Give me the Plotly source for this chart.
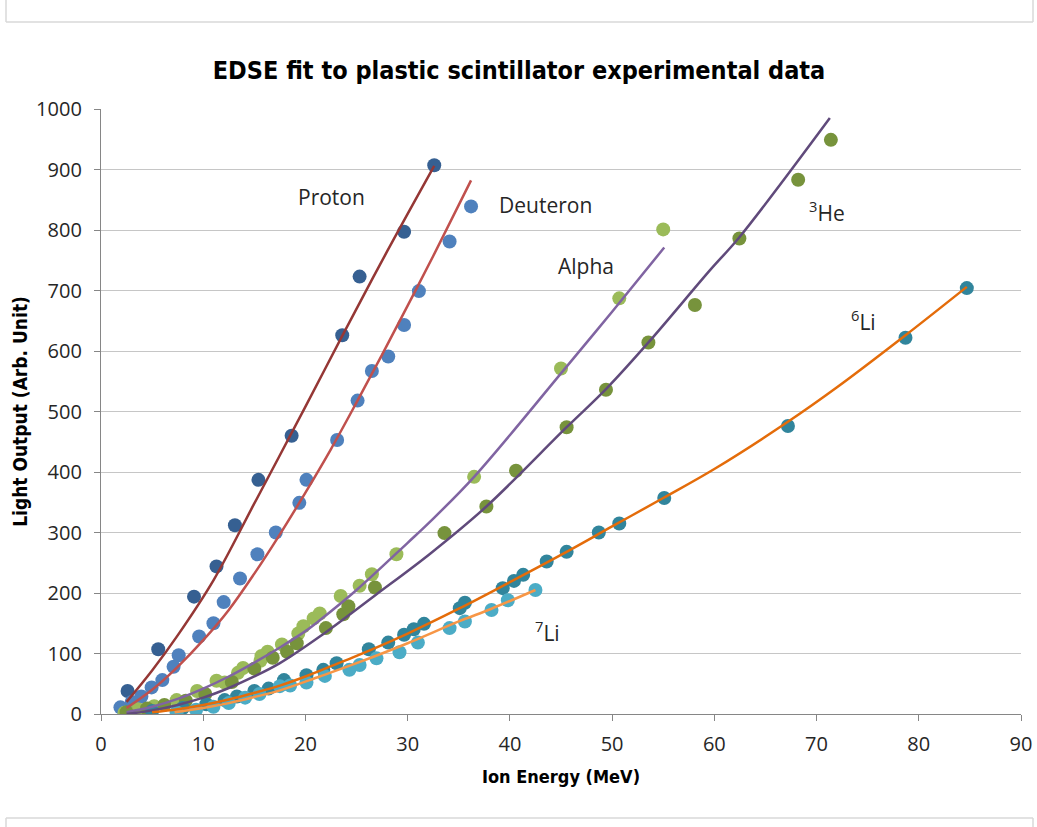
import plotly.graph_objects as go

# ---------------- data ----------------
proton_E = [2.6, 5.6, 9.1, 11.3, 13.1, 15.4, 18.65, 23.6, 25.3, 29.65, 32.6]
proton_L = [38, 107, 194, 244, 312, 387, 460, 626, 723, 797, 907]

deut_E = [1.9, 3.0, 3.95, 4.95, 6.0, 7.1, 7.6, 9.6, 11.0, 12.0, 13.6, 15.3, 17.1,
          19.4, 20.1, 23.1, 25.1, 26.5, 28.1, 29.65, 31.1, 34.1, 36.2]
deut_L = [11, 20, 29, 44, 56, 78, 97, 128, 150, 185, 224, 264, 300,
          349, 387, 453, 518, 567, 591, 643, 699, 781, 839]

alpha_E = [2.3, 3.6, 5.2, 7.4, 9.4, 11.3, 12.1, 13.4, 13.9, 15.6, 15.7, 16.3, 17.7,
           19.3, 19.8, 20.8, 21.4, 23.45, 25.3, 26.5, 28.9, 36.5, 45.0, 50.7, 55.0]
alpha_L = [2, 8, 13, 23, 38, 55, 52, 68, 76, 88, 96, 103, 115,
           133, 145, 158, 166, 195, 212, 231, 264, 392, 571, 687, 801]

he3_E = [2.5, 4.5, 6.2, 8.3, 10.2, 12.8, 15.0, 16.8, 18.2, 19.15, 22.0, 23.7, 24.2,
         26.8, 33.6, 37.7, 40.6, 45.55, 49.4, 53.55, 58.1, 62.45, 68.2, 71.4]
he3_L = [3, 9, 15, 22, 33, 53, 75, 93, 103, 117, 142, 165, 178,
         209, 299, 343, 402, 474, 536, 614, 676, 786, 883, 949]

li6_E = [5.0, 8.0, 10.3, 12.1, 13.3, 15.0, 16.4, 17.9, 20.1, 21.75, 23.05, 26.2, 28.1,
         29.65, 30.6, 31.6, 35.1, 35.6, 39.3, 40.4, 41.3, 43.6, 45.55, 48.7, 50.7,
         55.1, 67.2, 78.7, 84.7]
li6_L = [5, 10, 16, 23, 29, 38, 42, 56, 64, 73, 84, 107, 118,
         131, 140, 149, 175, 184, 208, 220, 230, 252, 268, 300, 315,
         357, 476, 622, 704]

li7_E = [7.4, 9.3, 11.0, 12.5, 14.1, 15.5, 17.5, 18.5, 20.1, 21.9, 24.3, 25.3, 26.95,
         29.2, 31.0, 34.1, 35.6, 38.2, 39.8, 42.5]
li7_L = [3, 7, 12, 18, 27, 33, 46, 47, 52, 63, 73, 81, 92,
         102, 118, 142, 153, 172, 188, 205]

# EDSE fit curves
fit_p_E = [2.5, 5, 7.5, 11, 15, 20, 23.6, 28, 32.6]
fit_p_L = [20, 72, 130, 221, 348, 508, 625, 765, 906]

fit_d_E = [2.5, 5, 7.5, 10, 12.5, 15, 17.5, 20, 22.5, 25, 27.5, 30, 32.5, 36.2]
fit_d_L = [10, 40, 78, 122, 172, 232, 297, 366, 438, 515, 594, 675, 757, 882]

fit_a_E = [2.5, 5, 7.5, 10, 12.5, 15, 17.5, 20, 21.4, 25, 30, 32.2, 36.5, 45, 50, 55.1]
fit_a_L = [3, 12, 25, 42, 62, 85, 110, 137, 155, 205, 283, 318, 392, 563, 665, 771]

fit_h_E = [2.5, 5, 7.5, 10, 12.5, 15, 17.5, 21.4, 26.8, 32.2, 37.7, 45.55, 49.4, 53.6, 59.6, 62.45, 71.3]
fit_h_L = [0, 6, 15, 27, 43, 62, 84, 128, 196, 265, 343, 474, 537, 615, 734, 788, 985]

fit_6_E = [5, 7.5, 10, 12.5, 15, 17.5, 20, 22.5, 25, 30, 35, 40, 45, 50, 55, 60, 67.2, 72, 78.7, 84.7]
fit_6_L = [3, 8, 15, 24, 35, 47, 62, 79, 96, 133, 174, 218, 263, 310, 357, 405, 483, 540, 626, 706]

fit_7_E = [7.2, 10, 12.5, 15, 17.5, 21.4, 25, 30, 35, 38.2, 42.5]
fit_7_L = [3, 10, 18, 28, 39, 62, 84, 117, 153, 174, 205]

x_ticks = [0, 10, 20, 30, 40, 50, 60, 70, 80, 90]
y_ticks = [0, 100, 200, 300, 400, 500, 600, 700, 800, 900, 1000]

labels_text = ["Proton", "Deuteron", "Alpha", "<sup>3</sup>He", "<sup>6</sup>Li", "<sup>7</sup>Li"]
labels_E = [22.5, 43.5, 47.4, 71.0, 74.6, 43.7]
labels_L = [854, 841, 740, 831, 650, 137]

# ---------------- figure ----------------
fig = go.Figure()

marker_sets = [
    (proton_E, proton_L, "#366092", "Proton"),
    (deut_E, deut_L, "#4F81BD", "Deuteron"),
    (alpha_E, alpha_L, "#9BBB59", "Alpha"),
    (he3_E, he3_L, "#77933C", "3He"),
    (li6_E, li6_L, "#31859C", "6Li"),
    (li7_E, li7_L, "#4BACC6", "7Li"),
]
for xs, ys, col, name in marker_sets:
    fig.add_trace(go.Scatter(x=xs, y=ys, mode="markers", name=name,
                             marker=dict(size=14, color=col, line=dict(width=0))))

fit_sets = [
    (fit_p_E, fit_p_L, "#953735"),
    (fit_d_E, fit_d_L, "#C0504D"),
    (fit_a_E, fit_a_L, "#8064A2"),
    (fit_h_E, fit_h_L, "#604A7B"),
    (fit_6_E, fit_6_L, "#E46C0A"),
    (fit_7_E, fit_7_L, "#F79646"),
]
for xs, ys, col in fit_sets:
    fig.add_trace(go.Scatter(x=xs, y=ys, mode="lines",
                             line=dict(color=col, width=2.5, shape="spline", smoothing=1.0)))

for t, xe, yl in zip(labels_text, labels_E, labels_L):
    fig.add_annotation(x=xe, y=yl, xref="x", yref="y", text=t, showarrow=False,
                       font=dict(family="Open Sans, sans-serif", size=21, color="#262626"))

# frame fragments of neighbouring boxes
L, R, T, B = 101, 1021, 109, 714
def px(x):
    return (x - L) / (R - L)
def py(y):
    return (B - y) / (B - T)
frame = dict(color="#D9D9D9", width=1.5)
for x0, y0, x1, y1 in [(6, 22, 1033, 22), (6, 0, 6, 22), (1033, 0, 1033, 22),
                       (6, 818, 1033, 818), (6, 818, 6, 827), (1033, 818, 1033, 827)]:
    fig.add_shape(type="line", xref="paper", yref="paper",
                  x0=px(x0), y0=py(y0), x1=px(x1), y1=py(y1), line=frame)

narrow = "Liberation Sans Narrow, DejaVu Sans Condensed, Arial Narrow, sans-serif"
fig.update_layout(
    width=1037, height=827,
    margin=dict(l=L, r=1037 - R, t=T, b=827 - B, autoexpand=False),
    paper_bgcolor="white", plot_bgcolor="white",
    showlegend=False,
    title=dict(text="<b>EDSE fit to plastic scintillator experimental data</b>",
               x=519 / 1037, xanchor="center", y=1 - 70 / 827, yanchor="middle",
               font=dict(family=narrow, size=25, color="#000000")),
)
fig.update_xaxes(
    range=[0, 90], tickvals=x_ticks, ticktext=[str(v) for v in x_ticks],
    showgrid=False, zeroline=False, automargin=False,
    showline=True, linecolor="#868686", linewidth=1.3,
    ticks="outside", ticklen=6, tickcolor="#868686", ticklabelstandoff=6,
    tickfont=dict(family="Open Sans, sans-serif", size=20, color="#262626"),
    title=dict(text="<b>Ion Energy (MeV)</b>", standoff=14,
               font=dict(family=narrow, size=18, color="#000000")),
)
fig.update_yaxes(
    range=[0, 1000], tickvals=y_ticks, ticktext=[str(v) for v in y_ticks],
    showgrid=True, gridcolor="#C6C6C6", gridwidth=1.3, zeroline=False, automargin=False,
    showline=True, linecolor="#868686", linewidth=1.3,
    ticks="outside", ticklen=6, tickcolor="#868686", ticklabelstandoff=8,
    tickfont=dict(family="Open Sans, sans-serif", size=20, color="#262626"),
    title=dict(text="<b>Light Output (Arb. Unit)</b>", standoff=3,
               font=dict(family=narrow, size=19, color="#000000")),
)

fig.write_html("out.html")
